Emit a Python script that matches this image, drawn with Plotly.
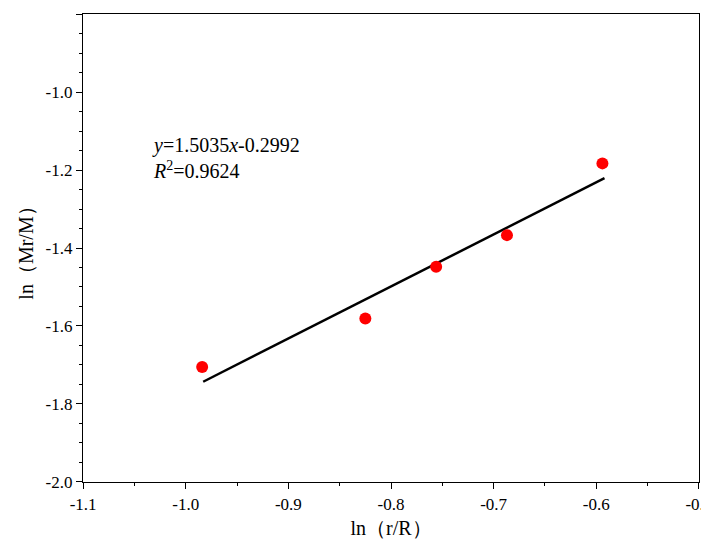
import plotly.graph_objects as go

# measured points
ln_r = [-0.984, -0.825, -0.756, -0.687, -0.594]
ln_m = [-1.705, -1.581, -1.448, -1.367, -1.183]

# fitted line endpoints as drawn
fit_x = [-0.983, -0.592]
fit_y = [-1.743, -1.221]

x_ticks = [-1.1, -1.0, -0.9, -0.8, -0.7, -0.6, -0.5]
y_ticks = [-2.0, -1.8, -1.6, -1.4, -1.2, -1.0, -0.8]

font = dict(family="Liberation Serif", size=17, color="black")
big = dict(family="Liberation Serif", size=20, color="black")

fig = go.Figure()
fig.add_trace(go.Scatter(x=fit_x, y=fit_y, mode="lines",
                         line=dict(color="black", width=2.5), showlegend=False))
fig.add_trace(go.Scatter(x=ln_r, y=ln_m, mode="markers",
                         marker=dict(color="red", size=12), showlegend=False))

axis = dict(showline=True, linecolor="black", linewidth=1.2, mirror=True,
            ticks="outside", ticklen=6, tickwidth=1.2, tickcolor="black",
            showgrid=False, zeroline=False, tickfont=font,
            minor=dict(ticks="outside", ticklen=3, tickwidth=1.2, tickcolor="black"))

fig.update_xaxes(axis, range=[-1.1001, -0.4999], tickvals=x_ticks,
                 ticktext=[f"{v:.1f}" for v in x_ticks],
                 title=dict(text="ln（r/R）", font=big, standoff=8))
fig.update_yaxes(axis, range=[-2.0001, -0.7999], tickvals=y_ticks,
                 ticktext=[f"{v:.1f}" for v in y_ticks],
                 title=dict(text="ln（Mr/M）", font=big, standoff=6))

fig.add_annotation(x=-1.035, y=-1.17, xref="x", yref="y", xanchor="left",
                   showarrow=False, font=big,
                   text="<i>y</i>=1.5035<i>x</i>-0.2992<br><i>R</i><sup>2</sup>=0.9624",
                   align="left")

fig.update_layout(width=709, height=554, plot_bgcolor="white", paper_bgcolor="white",
                  margin=dict(l=75, r=14, t=5, b=80), font=font)
fig.write_html("out.html")
